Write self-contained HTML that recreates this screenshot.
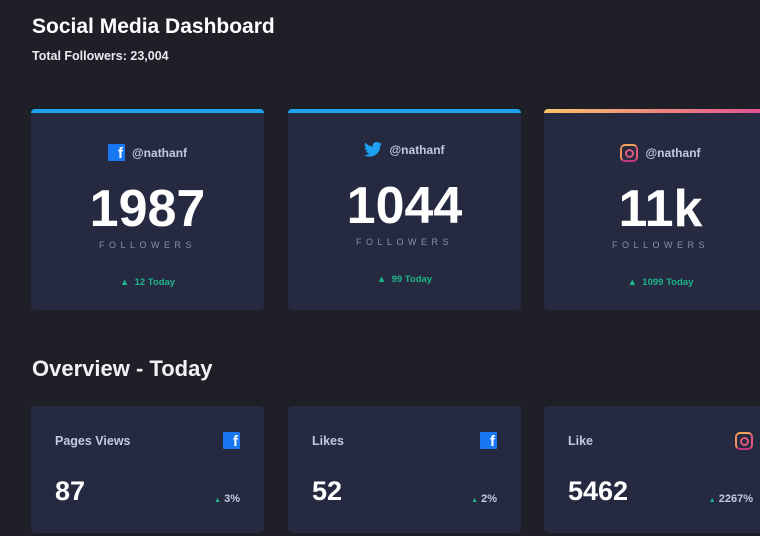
<!DOCTYPE html>
<html><head><style>
body{margin:0;width:760px;height:536px;overflow:hidden;background:#1e1f27;font-family:"Liberation Sans",sans-serif;color:#fff;position:relative}
.a{position:absolute}
h1{position:absolute;left:32px;top:15px;margin:0;font-size:21px;font-weight:bold}
.tot{left:32px;top:49px;font-size:12.5px;font-weight:bold;color:#e8e8ee}
.card{position:absolute;top:109px;width:233px;height:201px;background:#252a41;border-radius:4px;overflow:hidden;text-align:center}
.bar{height:4px;background:#1da1f2}
.card .h{position:absolute;left:0;right:0;font-size:12px;font-weight:bold;color:#c5c9dd;display:flex;justify-content:center;align-items:center;gap:7px}
.card .n{position:absolute;left:0;right:0;font-size:52px;font-weight:bold;line-height:52px}
.card .f{position:absolute;left:0;right:0;font-size:9px;letter-spacing:4.5px;color:#8b8fa8}
.card .t{position:absolute;left:0;right:0;font-size:9.5px;font-weight:bold;color:#1eb589}
.fb{display:inline-block;width:17px;height:17px;background:#1877f2;color:#fff;font-size:15px;font-weight:bold;line-height:19px;text-align:right;box-sizing:border-box;padding-right:2px;border-radius:1px}
.ig{display:inline-block;width:14px;height:14px;border:2px solid #e1587e;border-radius:5px;position:relative;border-color:#f4a25b #e1587e #c13584 #f08d5c}
.ig:after{content:"";position:absolute;left:3px;top:3px;width:5px;height:5px;border:2px solid #e1587e;border-radius:50%}
.sm{position:absolute;top:406px;width:233px;height:127px;background:#252a41;border-radius:4px}
.sm .l{position:absolute;left:24px;top:28px;font-size:12.5px;font-weight:bold;color:#c5c9dd}
.sm .n{position:absolute;left:24px;top:70px;font-size:27px;font-weight:bold}
.sm .p{position:absolute;right:24px;top:87px;font-size:11px;font-weight:bold;color:#c5c9dd}
.sm .p b{color:#1eb589;font-size:7px;margin-right:3px}
.sm .i{position:absolute;right:24px;top:26px}
</style></head><body>
<h1>Social Media Dashboard</h1>
<div class="a tot">Total Followers: 23,004</div>

<div class="card" style="left:31px"><div class="bar"></div>
<div class="h" style="top:35px"><span class="fb">f</span>@nathanf</div>
<div class="n" style="top:74px">1987</div>
<div class="f" style="top:131px">FOLLOWERS</div>
<div class="t" style="top:168px">▲&nbsp; 12 Today</div></div>

<div class="card" style="left:288px"><div class="bar"></div>
<div class="h" style="top:33px"><svg width="18" height="15" viewBox="0 0 24 20"><path fill="#1da1f2" d="M24 2.4a10 10 0 0 1-2.8.8A5 5 0 0 0 23.3.4a10 10 0 0 1-3.1 1.2A4.9 4.9 0 0 0 11.8 6 14 14 0 0 1 1.7.9a4.9 4.9 0 0 0 1.5 6.6A4.9 4.9 0 0 1 1 6.9a4.9 4.9 0 0 0 3.9 4.9 4.9 4.9 0 0 1-2.2.1 4.9 4.9 0 0 0 4.6 3.4A9.9 9.9 0 0 1 0 17.3 14 14 0 0 0 7.5 19.5c9.1 0 14-7.5 14-14v-.6A10 10 0 0 0 24 2.4z"/></svg>@nathanf</div>
<div class="n" style="top:71px">1044</div>
<div class="f" style="top:128px">FOLLOWERS</div>
<div class="t" style="top:165px">▲&nbsp; 99 Today</div></div>

<div class="card" style="left:544px"><div class="bar" style="background:linear-gradient(90deg,#fdc468,#df4996)"></div>
<div class="h" style="top:35px"><span class="ig"></span>@nathanf</div>
<div class="n" style="top:74px">11k</div>
<div class="f" style="top:131px">FOLLOWERS</div>
<div class="t" style="top:168px">▲&nbsp; 1099 Today</div></div>

<div class="a" style="left:32px;top:356px;font-size:22px;font-weight:bold;color:#f0f0f5">Overview - Today</div>

<div class="sm" style="left:31px"><div class="l">Pages Views</div><div class="i"><span class="fb">f</span></div><div class="n">87</div><div class="p"><b>▲</b>3%</div></div>
<div class="sm" style="left:288px"><div class="l">Likes</div><div class="i"><span class="fb">f</span></div><div class="n">52</div><div class="p"><b>▲</b>2%</div></div>
<div class="sm" style="left:544px"><div class="l">Like</div><div class="i"><span class="ig"></span></div><div class="n">5462</div><div class="p"><b>▲</b>2267%</div></div>
</body></html>
